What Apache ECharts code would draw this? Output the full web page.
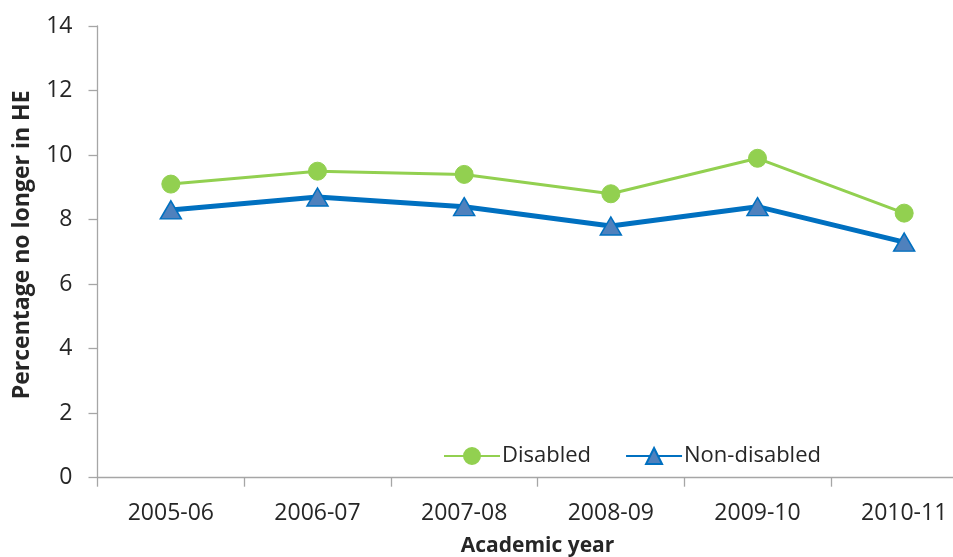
<!DOCTYPE html>
<html>
<head>
<meta charset="utf-8">
<script src="https://cdn.jsdelivr.net/npm/echarts@6/dist/echarts.min.js"></script>
<style>
  html, body { margin: 0; padding: 0; background: #fff; }
  #chart { width: 953px; height: 557px; }
</style>
</head>
<body>
<div id="chart"></div>
<script>
// Academic years on the category axis
const years = ['2005-06', '2006-07', '2007-08', '2008-09', '2009-10', '2010-11'];
// Percentage of students no longer in higher education
const disabled = [9.1, 9.5, 9.4, 8.8, 9.9, 8.2];
const nonDisabled = [8.3, 8.7, 8.4, 7.8, 8.4, 7.3];
// Value axis range and step
const yMin = 0, yMax = 14, yStep = 2;

const FONT = '"Open Sans", "Liberation Sans", sans-serif';
const AXIS_GREY = '#a6a6a6';
const TEXT = '#262626';

const chart = echarts.init(document.getElementById('chart'), null, { renderer: 'canvas' });

chart.setOption({
  animation: false,
  backgroundColor: '#ffffff',
  grid: {
    left: 97.5, top: 26, width: 880, bottom: 79.3,
    containLabel: false,
    outerBoundsMode: 'none'
  },
  legend: {
    left: 438, top: 440,
    itemWidth: 56, itemHeight: 20, itemGap: 34,
    textStyle: { fontFamily: FONT, fontSize: 22, color: TEXT, padding: [0, 0, 0, -3] },
    data: ['Disabled', 'Non-disabled']
  },
  xAxis: {
    type: 'category',
    data: years,
    boundaryGap: true,
    name: 'Academic year',
    nameLocation: 'middle',
    nameGap: 58,
    nameTextStyle: { fontFamily: FONT, fontSize: 21, fontWeight: 'bold', color: TEXT },
    axisLine: { lineStyle: { color: AXIS_GREY, width: 1.3 } },
    axisTick: { show: true, length: 9, inside: false, lineStyle: { color: AXIS_GREY, width: 1.3 } },
    axisLabel: { fontFamily: FONT, fontSize: 23, color: TEXT, margin: 24 },
    splitLine: { show: false }
  },
  yAxis: {
    type: 'value',
    min: yMin, max: yMax, interval: yStep,
    name: 'Percentage no longer in HE',
    nameLocation: 'middle',
    nameGap: 64,
    nameRotate: 90,
    nameTextStyle: { fontFamily: FONT, fontSize: 23, fontWeight: 'bold', color: TEXT, padding: [0, 0, 0, 14] },
    axisLine: { show: true, lineStyle: { color: AXIS_GREY, width: 1.3 } },
    axisTick: { show: true, length: 9, inside: false, lineStyle: { color: AXIS_GREY, width: 1.3 } },
    axisLabel: { fontFamily: FONT, fontSize: 23, color: TEXT, margin: 25 },
    splitLine: { show: false }
  },
  series: [
    {
      name: 'Disabled',
      type: 'line',
      data: disabled,
      symbol: 'circle',
      symbolSize: 18,
      lineStyle: { color: '#92d050', width: 3 },
      itemStyle: { color: '#92d050', borderColor: '#92d050', borderWidth: 1 },
      z: 3
    },
    {
      name: 'Non-disabled',
      type: 'line',
      data: nonDisabled,
      symbol: 'triangle',
      symbolSize: [21, 18],
      lineStyle: { color: '#0070c0', width: 5 },
      itemStyle: { color: '#4f81bd', borderColor: '#0070c0', borderWidth: 1.5 },
      z: 2
    }
  ]
});
</script>
</body>
</html>
